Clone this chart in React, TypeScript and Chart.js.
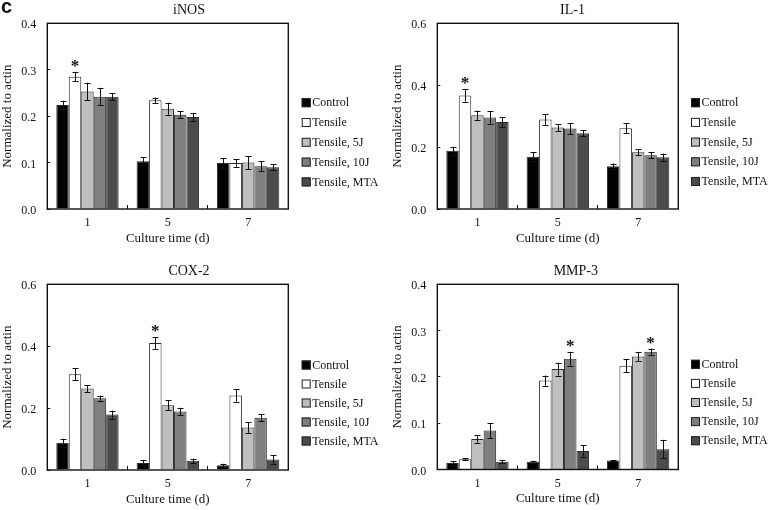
import React, { useEffect, useRef } from 'react';
import { Chart, registerables } from 'chart.js';

Chart.register(...registerables);

// ---------- data ----------
const days = ['1', '5', '7'];
const seriesLabels = ['Control', 'Tensile', 'Tensile, 5J', 'Tensile, 10J', 'Tensile, MTA'];
const seriesColors = ['#000000', '#ffffff', '#bfbfbf', '#7f7f7f', '#4b4b4b'];

// iNOS
const inosControl = [0.224, 0.103, 0.099];
const inosTensile = [0.285, 0.234, 0.099];
const inos5J = [0.253, 0.216, 0.1];
const inos10J = [0.242, 0.203, 0.092];
const inosMTA = [0.242, 0.198, 0.09];
const inosErrControl = [0.009, 0.009, 0.011];
const inosErrTensile = [0.01, 0.006, 0.008];
const inosErr5J = [0.019, 0.013, 0.014];
const inosErr10J = [0.019, 0.008, 0.011];
const inosErrMTA = [0.008, 0.009, 0.007];
const inosStars = [[1, 0]];
const inosTicks = { max: 0.4, step: 0.1 };

// IL-1
const il1Control = [0.188, 0.169, 0.138];
const il1Tensile = [0.367, 0.289, 0.261];
const il15J = [0.303, 0.263, 0.183];
const il110J = [0.296, 0.26, 0.174];
const il1MTA = [0.281, 0.245, 0.167];
const il1ErrControl = [0.013, 0.014, 0.009];
const il1ErrTensile = [0.02, 0.017, 0.016];
const il1Err5J = [0.015, 0.011, 0.01];
const il1Err10J = [0.02, 0.018, 0.01];
const il1ErrMTA = [0.015, 0.009, 0.012];
const il1Stars = [[1, 0]];
const il1Ticks = { max: 0.6, step: 0.2 };

// COX-2
const coxControl = [0.088, 0.023, 0.015];
const coxTensile = [0.309, 0.41, 0.241];
const cox5J = [0.263, 0.209, 0.137];
const cox10J = [0.232, 0.189, 0.169];
const coxMTA = [0.179, 0.03, 0.034];
const coxErrControl = [0.013, 0.008, 0.005];
const coxErrTensile = [0.019, 0.019, 0.02];
const coxErr5J = [0.011, 0.016, 0.017];
const coxErr10J = [0.008, 0.012, 0.011];
const coxErrMTA = [0.013, 0.007, 0.013];
const coxStars = [[1, 1]];
const coxTicks = { max: 0.6, step: 0.2 };

// MMP-3
const mmpControl = [0.014, 0.017, 0.0195];
const mmpTensile = [0.022, 0.192, 0.224];
const mmp5J = [0.066, 0.217, 0.244];
const mmp10J = [0.084, 0.239, 0.2545];
const mmpMTA = [0.017, 0.04, 0.044];
const mmpErrControl = [0.004, 0.002, 0.001];
const mmpErrTensile = [0.002, 0.011, 0.014];
const mmpErr5J = [0.008, 0.014, 0.01];
const mmpErr10J = [0.016, 0.0145, 0.0065];
const mmpErrMTA = [0.004, 0.012, 0.02];
const mmpStars = [[3, 1], [3, 2]];
const mmpTicks = { max: 0.4, step: 0.1 };

const yTitle = 'Normalized to actin';
const xTitle = 'Culture time (d)';

// ---------- layout ----------
const Y_AXIS_W = 47.3;
const X_AXIS_H = 37.1;
const SERIF = '"Liberation Serif", "Times New Roman", serif';

const layouts = [
  { x: 0, y: 0, width: 388, height: 250, plotLeft: 47.3, plotRight: 288.3, plotTop: 23.3, plotBottom: 209, titleX: 189, titleY: 10, legX: 301.7, legY: 102.7, legStep: 19.8, letter: true },
  { x: 388, y: 0, width: 387, height: 250, plotLeft: 49.3, plotRight: 290.3, plotTop: 23.3, plotBottom: 209, titleX: 184.5, titleY: 10, legX: 303, legY: 102.7, legStep: 19.7, letter: false },
  { x: 0, y: 255, width: 388, height: 255, plotLeft: 47.3, plotRight: 288.3, plotTop: 29.3, plotBottom: 215, titleX: 189, titleY: 16.7, legX: 301.7, legY: 110, legStep: 19, letter: false },
  { x: 388, y: 255, width: 387, height: 255, plotLeft: 49.3, plotRight: 290.3, plotTop: 29.3, plotBottom: 214.5, titleX: 187.8, titleY: 16.7, legX: 303, legY: 109.3, legStep: 19.1, letter: false },
];

const panels = [
  {
    title: 'iNOS',
    values: [inosControl, inosTensile, inos5J, inos10J, inosMTA],
    errors: [inosErrControl, inosErrTensile, inosErr5J, inosErr10J, inosErrMTA],
    stars: inosStars,
    ticks: inosTicks,
  },
  {
    title: 'IL-1',
    values: [il1Control, il1Tensile, il15J, il110J, il1MTA],
    errors: [il1ErrControl, il1ErrTensile, il1Err5J, il1Err10J, il1ErrMTA],
    stars: il1Stars,
    ticks: il1Ticks,
  },
  {
    title: 'COX-2',
    values: [coxControl, coxTensile, cox5J, cox10J, coxMTA],
    errors: [coxErrControl, coxErrTensile, coxErr5J, coxErr10J, coxErrMTA],
    stars: coxStars,
    ticks: coxTicks,
  },
  {
    title: 'MMP-3',
    values: [mmpControl, mmpTensile, mmp5J, mmp10J, mmpMTA],
    errors: [mmpErrControl, mmpErrTensile, mmpErr5J, mmpErr10J, mmpErrMTA],
    stars: mmpStars,
    ticks: mmpTicks,
  },
];

// ---------- plugin ----------
const decorPlugin = {
  id: 'decor',
  afterDatasetsDraw(chart: any, _args: any, opts: any) {
    const ctx = chart.ctx;
    const yScale = chart.scales.y;
    const errors: number[][] = opts.errors;
    const values: number[][] = opts.values;
    ctx.save();
    ctx.strokeStyle = '#111';
    ctx.lineWidth = 1;
    const capTops: Record<string, number> = {};
    chart.data.datasets.forEach((_ds: any, i: number) => {
      const meta = chart.getDatasetMeta(i);
      meta.data.forEach((bar: any, j: number) => {
        const v = values[i][j];
        const e = errors[i][j];
        const x = Math.round(bar.x) + 0.5;
        const yT = yScale.getPixelForValue(v + e);
        const yB = yScale.getPixelForValue(Math.max(0, v - e));
        capTops[i + '_' + j] = yT;
        ctx.beginPath();
        ctx.moveTo(x, yT);
        ctx.lineTo(x, yB);
        ctx.moveTo(x - 3, Math.round(yT) + 0.5);
        ctx.lineTo(x + 3, Math.round(yT) + 0.5);
        ctx.moveTo(x - 3, Math.round(yB) + 0.5);
        ctx.lineTo(x + 3, Math.round(yB) + 0.5);
        ctx.stroke();
      });
    });
    // significance stars
    ctx.fillStyle = '#111';
    ctx.font = 'bold 17px ' + SERIF;
    ctx.textAlign = 'center';
    ctx.textBaseline = 'alphabetic';
    (opts.stars as number[][]).forEach(([si, ci]) => {
      const bar = chart.getDatasetMeta(si).data[ci];
      ctx.fillText('*', bar.x, capTops[si + '_' + ci] - 1);
    });
    ctx.restore();
  },
  afterDraw(chart: any, _args: any, opts: any) {
    const ctx = chart.ctx;
    const a = chart.chartArea;
    ctx.save();
    // frame
    ctx.strokeStyle = '#111';
    ctx.lineWidth = 1.4;
    ctx.strokeRect(a.left, a.top, a.right - a.left, a.bottom - a.top);
    // title
    ctx.fillStyle = '#111';
    ctx.font = '14px ' + SERIF;
    ctx.textAlign = 'center';
    ctx.textBaseline = 'middle';
    ctx.fillText(opts.title, opts.titleX, opts.titleY);
    // legend
    ctx.textAlign = 'left';
    ctx.font = '12px ' + SERIF;
    chart.data.datasets.forEach((ds: any, i: number) => {
      const cy = opts.legY + i * opts.legStep;
      ctx.fillStyle = ds.backgroundColor;
      ctx.fillRect(opts.legX, cy - 4.5, 9, 9);
      ctx.strokeStyle = '#222';
      ctx.lineWidth = 1;
      ctx.strokeRect(opts.legX + 0.5, cy - 4, 8, 8);
      ctx.fillStyle = '#111';
      ctx.fillText(ds.label, opts.legX + 10.6, cy + 0.5);
    });
    if (opts.letter) {
      ctx.font = 'bold 20px "Liberation Sans", Arial, sans-serif';
      ctx.textBaseline = 'alphabetic';
      ctx.fillText('c', 1, 13);
    }
    ctx.restore();
  },
};

function Panel({ index }: { index: number }) {
  const ref = useRef<HTMLCanvasElement>(null);
  const L = layouts[index];
  const P = panels[index];
  useEffect(() => {
    const canvas = ref.current;
    if (!canvas) return;
    const chart = new Chart(canvas, {
      type: 'bar',
      data: {
        labels: days,
        datasets: seriesLabels.map((label, i) => ({
          label,
          data: P.values[i],
          backgroundColor: seriesColors[i],
          borderColor: '#2a2a2a',
          borderWidth: 1,
          categoryPercentage: 0.776,
          barPercentage: 1,
        })),
      },
      options: {
        responsive: false,
        animation: false,
        devicePixelRatio: 1,
        layout: {
          padding: {
            left: L.plotLeft - Y_AXIS_W,
            top: L.plotTop,
            right: L.width - L.plotRight,
            bottom: L.height - L.plotBottom - X_AXIS_H,
          },
        },
        plugins: {
          legend: { display: false },
          title: { display: false },
          tooltip: { enabled: false },
          decor: {
            title: P.title,
            titleX: L.titleX,
            titleY: L.titleY,
            legX: L.legX,
            legY: L.legY,
            legStep: L.legStep,
            letter: L.letter,
            values: P.values,
            errors: P.errors,
            stars: P.stars,
          },
        } as any,
        scales: {
          x: {
            offset: true,
            afterFit: (s: any) => {
              s.height = X_AXIS_H;
            },
            border: { display: false },
            grid: {
              offset: true,
              drawOnChartArea: false,
              drawTicks: true,
              tickLength: -4,
              color: '#111',
              lineWidth: 1,
            },
            ticks: {
              color: '#111',
              font: { family: SERIF, size: 12 },
              padding: 11.1,
              maxRotation: 0,
            },
            title: {
              display: true,
              text: xTitle,
              color: '#111',
              font: { family: SERIF, size: 13 },
              padding: { top: 0, bottom: 0 },
            },
          },
          y: {
            min: 0,
            max: P.ticks.max,
            afterFit: (s: any) => {
              s.width = Y_AXIS_W;
            },
            border: { display: false },
            grid: {
              drawOnChartArea: false,
              drawTicks: true,
              tickLength: -3,
              color: '#111',
              lineWidth: 1,
            },
            ticks: {
              stepSize: P.ticks.step,
              color: '#111',
              font: { family: SERIF, size: 12 },
              padding: 14,
              labelOffset: 2,
              callback: (v: any) => Number(v).toFixed(1),
            },
            title: {
              display: true,
              text: yTitle,
              color: '#111',
              font: { family: SERIF, size: 13 },
              padding: { top: 0, bottom: 0 },
            },
          },
        },
      },
      plugins: [decorPlugin],
    } as any);
    return () => chart.destroy();
  }, []);
  return (
    <canvas
      ref={ref}
      width={L.width}
      height={L.height}
      style={{ position: 'absolute', left: L.x, top: L.y, width: L.width, height: L.height }}
    />
  );
}

export default function App() {
  return (
    <div style={{ position: 'fixed', left: 0, top: 0, width: 775, height: 510, background: '#fff', overflow: 'hidden' }}>
      {panels.map((_p, i) => (
        <Panel key={i} index={i} />
      ))}
    </div>
  );
}
